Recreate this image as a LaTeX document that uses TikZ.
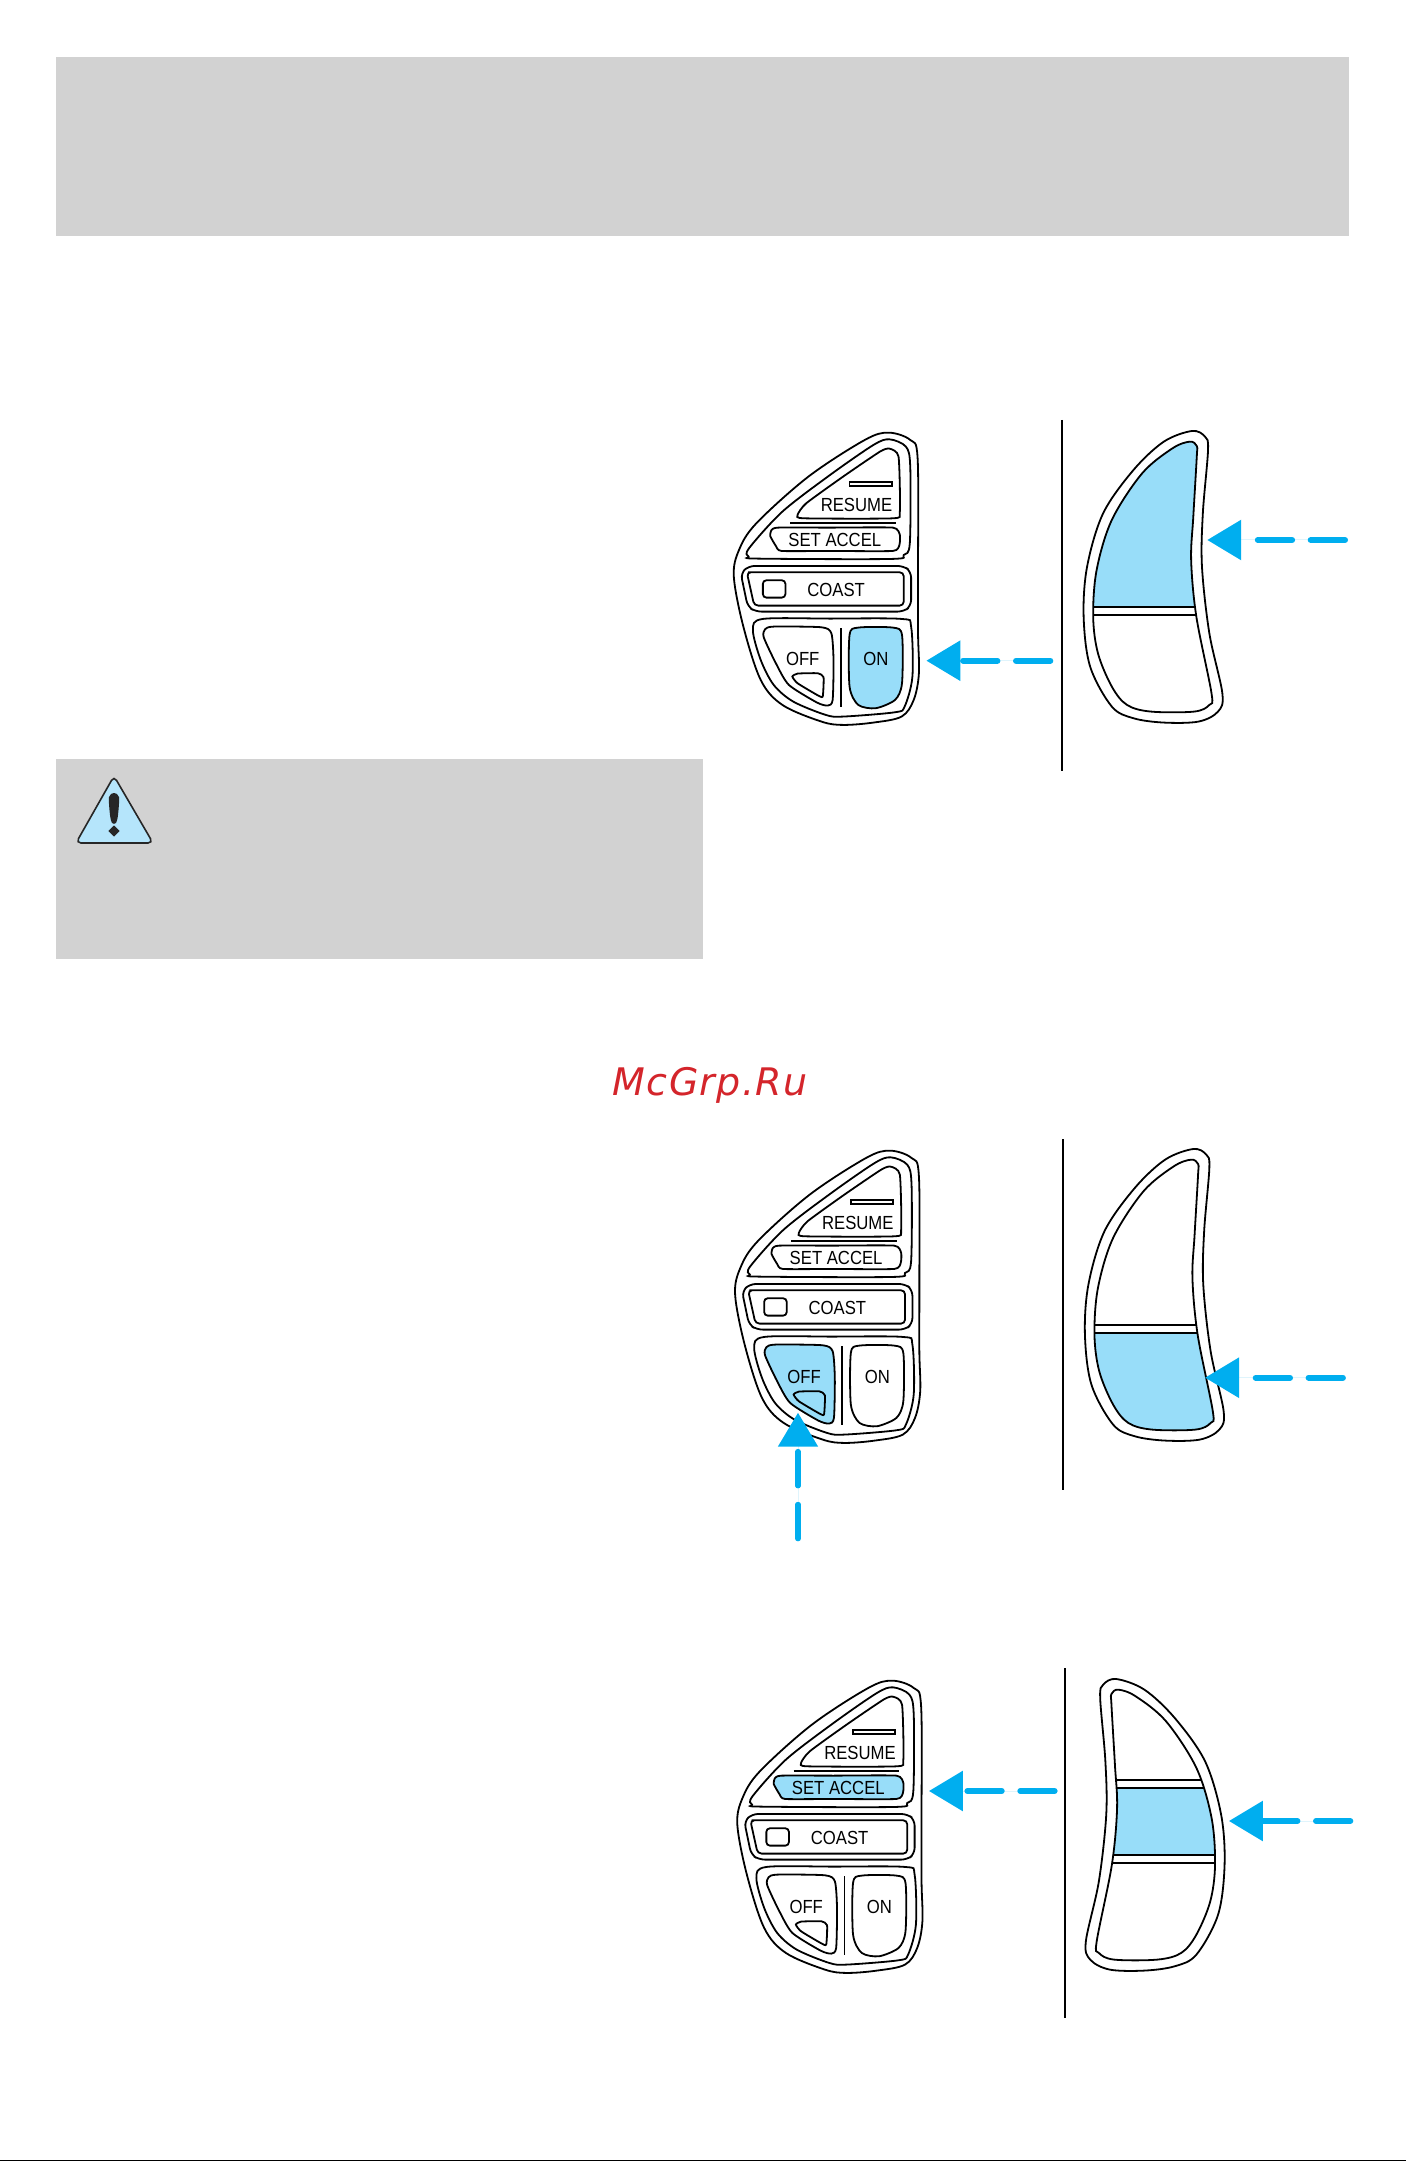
\documentclass[tikz,border=0pt]{standalone}
\usepackage{fontspec}
\usetikzlibrary{arrows.meta}
\newfontfamily\btnfont[FakeStretch=0.88]{Liberation Sans}
\newfontfamily\markfont[LetterSpace=3.5]{DejaVu Sans}
\definecolor{bandgray}{HTML}{D2D2D2}
\definecolor{pressblue}{HTML}{98DDF9}
\definecolor{arrowblue}{HTML}{00AEEF}
\definecolor{warnblue}{HTML}{B5E5FB}
\definecolor{markred}{HTML}{D4252B}
\tikzset{
	outline/.style={draw=black,line width=.18mm},
	btnlabel/.style={inner sep=0pt,font=\btnfont\fontsize{5.4}{6}\selectfont},
	push/.style={->,>={Triangle[length=3.4mm,width=3.9mm]},draw=arrowblue,fill=arrowblue,line width=.6mm,line cap=round,dash pattern=on 3.43mm off 1.86mm},
	pics/panel/.style n args={3}{code={
		\begin{scope}[x=.04335mm,y=-.03333mm]
		\draw[outline] plot[smooth cycle,tension=.55] coordinates {(435,98) (485,120) (502,175) (503,500) (503,700) (505,820) (493,900) (465,950) (400,968) (330,975) (280,965) (190,915) (140,840) (100,680) (78,530) (90,450) (130,370) (250,230) (380,120)};
		\draw[outline] plot[smooth cycle,tension=.5] coordinates {(437,118) (475,140) (485,200) (484,430) (470,465) (440,477) (135,476) (112,470) (113,445) (190,335) (300,225) (400,135)};
		% resume key
		\draw[outline] plot[smooth cycle,tension=.35] coordinates {(437,146) (458,170) (461,335) (445,355) (240,355) (225,345) (245,310) (330,230) (415,155)};
		\draw[outline] (345,246) rectangle (442,259);
		\node[btnlabel] (resume) at (361,316) {RESUME};
		\draw[line width=.2mm] (208,370) -- (452,370);
		% set accel key
		\draw[outline,fill=#1] plot[smooth cycle,tension=.3] coordinates {(180,383) (300,383) (445,383) (461,405) (460,435) (445,453) (300,453) (188,453) (175,438) (162,408) (165,390)};
		\node[btnlabel] (setaccel) at (311,420) {SET ACCEL};
		% coast key
		\draw[outline,rounded corners=.6mm] (112,498) -- (470,498) -- (487,515) -- (487,618) -- (470,635) -- (128,635) -- (110,620) -- (94,520) -- cycle;
		\draw[outline,rounded corners=.4mm] (120,517) -- (470,517) -- (470,617) -- (125,617) -- (108,517) -- cycle;
		\draw[outline,rounded corners=.35mm] (145,541) rectangle (197,593);
		\node[btnlabel] (coast) at (314,570) {COAST};
		% lower keys
		\draw[outline] plot[smooth cycle,tension=.5] coordinates {(145,657) (300,656) (465,657) (487,680) (490,830) (472,920) (450,937) (330,950) (290,945) (215,905) (170,855) (140,780) (122,690)};
		\draw[outline,fill=#2] plot[smooth cycle,tension=.4] coordinates {(170,680) (280,682) (303,700) (308,780) (306,900) (295,917) (270,908) (205,855) (175,790) (147,712) (150,688)};
		\node[btnlabel] (off) at (237,778) {OFF};
		\draw[outline] plot[smooth cycle,tension=.3] coordinates {(225,821) (272,820) (285,832) (283,890) (270,885) (225,850) (213,830)};
		\draw[line width=.14mm] (325,685) -- (325,920);
		\draw[outline,fill=#3] plot[smooth cycle,tension=.45] coordinates {(365,683) (445,683) (466,705) (466,850) (450,900) (405,925) (365,915) (345,860) (345,705)};
		\node[btnlabel] (on) at (406,778) {ON};
		\end{scope}
	}},
	pics/paddle/.style n args={3}{code={
		\begin{scope}[x=.04335mm,y=-.03333mm]
		\draw[outline] plot[smooth cycle,tension=.55] coordinates {(1135,93) (1165,110) (1172,150) (1160,340) (1158,500) (1175,700) (1205,880) (1195,935) (1150,965) (1070,968) (1000,955) (950,920) (900,800) (885,650) (893,500) (930,340) (1000,210) (1070,125)};
		\begin{scope}
		\clip plot[smooth cycle,tension=.55] coordinates {(1130,125) (1146,138) (1146,170) (1138,350) (1133,480) (1145,650) (1180,880) (1175,915) (1140,935) (1040,935) (985,915) (950,860) (918,760) (907,650) (915,510) (950,360) (1020,220) (1090,145)};
		\fill[pressblue] (850,#1) rectangle (1250,#2);
		\foreach \ybar in {#3}
			\draw[line width=.18mm] (850,\ybar) -- (1250,\ybar);
		\end{scope}
		\draw[outline] plot[smooth cycle,tension=.55] coordinates {(1130,125) (1146,138) (1146,170) (1138,350) (1133,480) (1145,650) (1180,880) (1175,915) (1140,935) (1040,935) (985,915) (950,860) (918,760) (907,650) (915,510) (950,360) (1020,220) (1090,145)};
		\end{scope}
	}},
}
\begin{document}
\begin{tikzpicture}[x=.1mm,y=-.1mm]
	\useasboundingbox (0,0) rectangle (1406,2161);
	\fill[white] (0,0) rectangle (1406,2161);
	\fill[bandgray] (56,57) rectangle (1349,236);
	\fill[bandgray] (56,759) rectangle (703,959);
	\fill[black] (0,2160) rectangle (1406,2161);
	% warning sign
	\draw[line width=.16mm,draw=black!85,fill=warnblue,rounded corners=.5mm] (114,776) -- (153,843) -- (76,843) -- cycle;
	\fill[black!85] plot[smooth cycle,tension=.5] coordinates {(114,793) (119,797) (118,815) (116,823) (112,823) (110,815) (109,797)};
	\fill[black!85] (114,825.5) -- (119.7,831) -- (114,836.5) -- (108.3,831) -- cycle;
	% first pair
	\pic at (700,400) {panel={white}{white}{pressblue}};
	\pic at (700,400) {paddle={0}{620}{620,645}};
	\coordinate (rule1a) at (1062,420);
	\coordinate (rule1b) at (1062,771);
	\draw[line width=.2mm] (rule1a) -- (rule1b);
	\coordinate (tail1) at (1050.3,660.7);
	\coordinate (tip1) at (926.3,660.7);
	\draw[push] (tail1) -- (tip1);
	\coordinate (tail2) at (1345,540);
	\coordinate (tip2) at (1207.2,540);
	\draw[push] (tail2) -- (tip2);
	% watermark
	\node[anchor=base west,inner sep=0pt,text=markred,font=\markfont\itshape\fontsize{10.8}{13}\selectfont] (mark) at (612,1095) {McGrp.Ru};
	% second pair
	\pic at (701.3,1118) {panel={white}{pressblue}{white}};
	\pic at (701.3,1118) {paddle={645}{1100}{620,645}};
	\coordinate (rule2a) at (1062.8,1139);
	\coordinate (rule2b) at (1062.8,1490);
	\draw[line width=.2mm] (rule2a) -- (rule2b);
	\coordinate (tail3) at (798,1538.7);
	\coordinate (tip3) at (798,1412.7);
	\draw[push,line width=.52mm] (tail3) -- (tip3);
	\coordinate (tail4) at (1342.9,1377.7);
	\coordinate (tip4) at (1205,1377.7);
	\draw[push] (tail4) -- (tip4);
	% third pair
	\pic at (703.5,1648) {panel={pressblue}{white}{white}};
	\pic[xscale=-1] at (1608.2,1648) {paddle={421}{621}{396,421,621,644}};
	\coordinate (rule3a) at (1065,1668);
	\coordinate (rule3b) at (1065,2018);
	\draw[line width=.2mm] (rule3a) -- (rule3b);
	\coordinate (tail5) at (1054.6,1791);
	\coordinate (tip5) at (928.9,1791);
	\draw[push] (tail5) -- (tip5);
	\coordinate (tail6) at (1350.3,1821);
	\coordinate (tip6) at (1228.9,1821);
	\draw[push] (tail6) -- (tip6);
\end{tikzpicture}
\end{document}
